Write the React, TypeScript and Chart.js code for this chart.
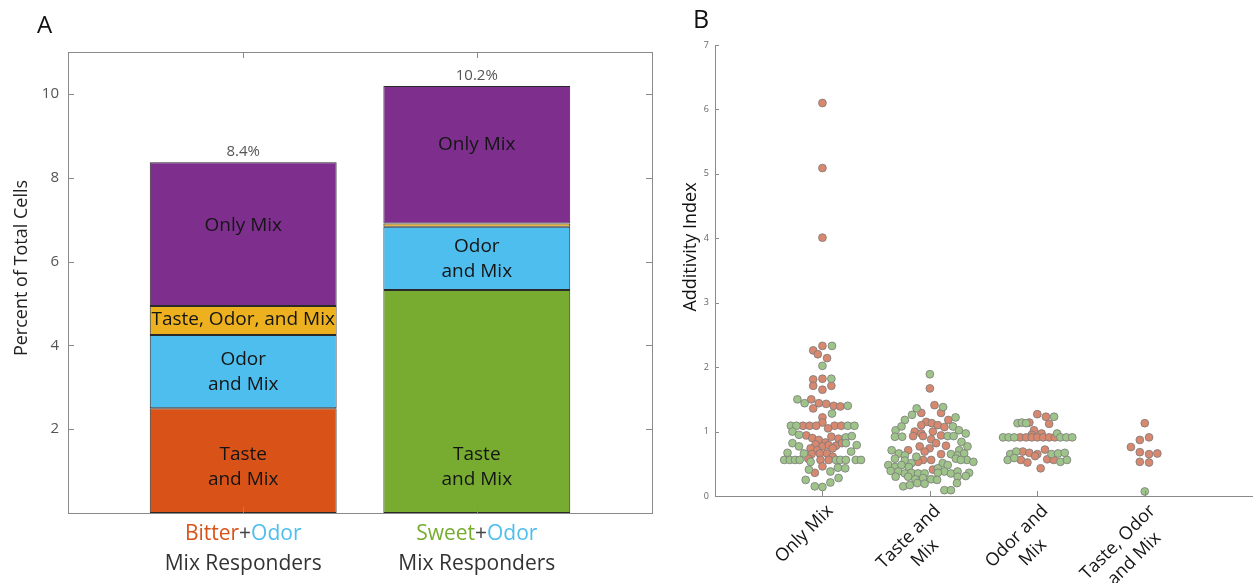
import React, { useEffect, useRef } from 'react';
import { Chart, registerables } from 'chart.js';

Chart.register(...registerables);

const FONT = '"Open Sans", "Noto Sans", "DejaVu Sans", sans-serif';

// ---------- Panel A data ----------
const barPositions = [1, 2];
const barTotalLabels = ['8.4%', '10.2%'];
const tasteNames = ['Bitter', 'Sweet'];
const odorName = 'Odor';
const responderLine = 'Mix Responders';
const tasteAndMix = [2.5, 5.32];
const odorAndMix = [1.75, 1.51];
const tasteOdorAndMix = [0.69, 0.08];
const onlyMix = [3.43, 3.28];
const segmentNames = [['Taste', 'and Mix'], ['Odor', 'and Mix'], ['Taste, Odor, and Mix'], ['Only Mix']];
const tasteLabelY = [1.1, 1.1];
const odorLabelY = [3.36, 6.07];
const tasteOdorLabelY = [4.62, null];
const onlyMixLabelY = [6.85, 8.8];
const yTicksA = [2, 4, 6, 8, 10];

// ---------- Panel B data ----------
const categoriesB = [['Only Mix'], ['Taste and', 'Mix'], ['Odor and', 'Mix'], ['Taste, Odor', 'and Mix']];
const yTicksB = [0, 1, 2, 3, 4, 5, 6, 7];

// [horizontal swarm offset, additivity index]
const onlyMixBitter = [
  [0, 6.1], [0, 5.09], [0, 4.01],
  [-0.086, 2.26], [0, 2.33], [-0.043, 2.2], [0.043, 2.14],
  [-0.086, 1.81], [0, 1.82], [-0.086, 1.71], [0, 1.65], [0.083, 1.71],
  [-0.104, 1.5], [-0.034, 1.44], [0.034, 1.43], [0.104, 1.4], [0.166, 1.39], [-0.086, 1.36],
  [0, 1.22], [0, 1.14],
  [-0.181, 1.09], [-0.12, 1.09], [-0.058, 1.09], [0.113, 1.09], [0.175, 1.09],
  [0.052, 1.05],
  [-0.15, 0.94], [-0.095, 0.9], [-0.034, 0.87], [0.028, 0.83], [0.083, 0.92], [0.15, 0.89],
  [-0.064, 0.8], [0, 0.77], [0.058, 0.79], [0.126, 0.78], [0.181, 0.82],
  [-0.11, 0.74], [-0.049, 0.71], [0.095, 0.74],
  [-0.101, 0.65], [-0.025, 0.66], [0.043, 0.66], [0.095, 0.61],
  [-0.132, 0.58], [-0.018, 0.56], [0.058, 0.56],
  [0, 0.46], [-0.071, 0.36],
];
const onlyMixSweet = [
  [0.089, 2.33], [0, 2.02], [0.083, 1.82],
  [-0.233, 1.5], [-0.166, 1.44], [0.236, 1.4], [0.089, 1.28],
  [-0.294, 1.09], [-0.242, 1.09], [0.236, 1.09], [0.298, 1.09],
  [-0.279, 1.0], [-0.218, 0.95], [0.218, 0.91], [0.273, 0.93],
  [-0.279, 0.82], [0.218, 0.82], [-0.218, 0.77], [0.319, 0.79],
  [-0.325, 0.67], [-0.172, 0.66], [0.267, 0.69],
  [-0.356, 0.56], [-0.304, 0.56], [-0.255, 0.56], [-0.212, 0.56],
  [0.126, 0.56], [0.166, 0.56], [0.218, 0.56], [0.31, 0.56], [0.359, 0.56],
  [-0.11, 0.53], [-0.126, 0.41], [0.074, 0.38], [0.144, 0.44], [0.212, 0.43],
  [-0.156, 0.25], [0.15, 0.28], [-0.071, 0.15], [0, 0.14], [0.074, 0.21],
];
const tasteMixBitter = [
  [0, 1.67], [0.043, 1.41], [-0.08, 1.29], [0.104, 1.29],
  [-0.034, 1.15], [0.018, 1.13], [0.172, 1.18], [-0.08, 1.1], [0.074, 1.1], [0.135, 1.07],
  [-0.141, 1.0], [-0.08, 0.97], [0.028, 1.0], [-0.156, 0.93], [-0.064, 0.93], [0.104, 0.94],
  [0.012, 0.88], [0.058, 0.82], [-0.095, 0.77], [-0.003, 0.74], [0.15, 0.78],
  [-0.202, 0.71], [-0.049, 0.69], [0.104, 0.65],
  [-0.064, 0.56], [0.012, 0.56], [-0.11, 0.53], [0.028, 0.41],
];
const tasteMixSweet = [
  [0, 1.89], [0.123, 1.38], [-0.123, 1.36], [-0.166, 1.26], [0.239, 1.22], [-0.233, 1.18],
  [0.215, 1.08], [-0.319, 1.02], [-0.264, 1.08], [0.27, 1.02], [0.334, 0.97],
  [-0.325, 0.92], [-0.258, 0.92], [0.166, 0.93], [0.221, 0.93], [0.294, 0.84],
  [-0.356, 0.71], [-0.288, 0.66], [-0.233, 0.63], [0.273, 0.71], [0.35, 0.77],
  [0.196, 0.65], [0.258, 0.63], [0.319, 0.66], [0.242, 0.58], [0.344, 0.56], [0.405, 0.53],
  [-0.126, 0.61], [-0.325, 0.58], [-0.233, 0.55], [-0.172, 0.51], [0.12, 0.51], [0.166, 0.48], [0.288, 0.56],
  [-0.387, 0.48], [-0.325, 0.45], [-0.264, 0.48], [-0.196, 0.45], [0.074, 0.43],
  [0.135, 0.38], [0.196, 0.35], [0.258, 0.38], [0.365, 0.36],
  [-0.365, 0.39], [-0.294, 0.38], [-0.233, 0.35], [-0.172, 0.36], [-0.11, 0.35], [-0.049, 0.35], [0.074, 0.36],
  [-0.319, 0.3], [-0.202, 0.3], [-0.135, 0.26], [-0.064, 0.28], [0.012, 0.26], [0.258, 0.3], [0.334, 0.31],
  [-0.248, 0.15], [-0.187, 0.17], [-0.117, 0.2], [-0.049, 0.19], [0.067, 0.25], [0.252, 0.2],
  [0.135, 0.09], [0.196, 0.09],
];
const odorMixBitter = [
  [0, 1.27], [0.08, 1.23], [-0.074, 1.14], [0.11, 1.12], [-0.031, 1.02], [0.04, 0.97], [-0.052, 0.95],
  [-0.16, 0.91], [-0.104, 0.91], [-0.052, 0.91], [0, 0.91], [0.055, 0.91], [0.11, 0.91], [0.163, 0.91],
  [0.071, 0.72], [-0.135, 0.69], [-0.074, 0.67], [0, 0.65], [-0.021, 0.62],
  [-0.153, 0.56], [-0.092, 0.52], [0.092, 0.57], [0.153, 0.56], [0.031, 0.43],
];
const odorMixSweet = [
  [0.156, 1.23], [-0.184, 1.13], [-0.144, 1.14], [-0.104, 1.13], [0.184, 0.97],
  [-0.319, 0.91], [-0.267, 0.91], [-0.215, 0.91], [0.215, 0.91], [0.27, 0.91], [0.325, 0.91],
  [-0.252, 0.65], [-0.196, 0.69], [0.132, 0.65], [0.193, 0.66], [0.255, 0.67],
  [-0.276, 0.56], [-0.215, 0.59], [0.215, 0.53], [0.276, 0.56],
];
const allThreeBitter = [
  [0, 1.13], [-0.046, 0.87], [0.04, 0.91], [-0.129, 0.76], [-0.046, 0.68], [0.04, 0.65], [0.117, 0.66],
  [-0.046, 0.53], [0.04, 0.52],
];
const allThreeSweet = [[0, 0.07]];

const bitterGroups = [onlyMixBitter, tasteMixBitter, odorMixBitter, allThreeBitter];
const sweetGroups = [onlyMixSweet, tasteMixSweet, odorMixSweet, allThreeSweet];

// ---------- styles ----------
const ORANGE = '#D95319';
const GREEN = '#77AC30';
const BLUE = '#4DBEEE';
const YELLOW = '#EDB120';
const PURPLE = '#7E2F8E';
const AXIS = '#8a8a8a';

const toXY = (groups: number[][][]) =>
  groups.flatMap((g, gi) => g.map(([dx, y]) => ({ x: gi + 1 + dx, y })));

const panelAPlugin = {
  id: 'panelA',
  afterDraw(chart: any) {
    const { ctx, chartArea: ca, scales } = chart;
    const xs = scales.x;
    const ys = scales.y;
    ctx.save();
    // box
    ctx.strokeStyle = AXIS;
    ctx.lineWidth = 1;
    ctx.strokeRect(Math.round(ca.left) + 0.5, Math.round(ca.top) + 0.5, Math.round(ca.right - ca.left), Math.round(ca.bottom - ca.top));
    // inward ticks
    ctx.beginPath();
    yTicksA.forEach((v) => {
      const y = Math.round(ys.getPixelForValue(v)) + 0.5;
      ctx.moveTo(ca.left, y); ctx.lineTo(ca.left + 6, y);
      ctx.moveTo(ca.right, y); ctx.lineTo(ca.right - 6, y);
    });
    barPositions.forEach((p) => {
      const x = Math.round(xs.getPixelForValue(p)) + 0.5;
      ctx.moveTo(x, ca.top); ctx.lineTo(x, ca.top + 6);
      ctx.moveTo(x, ca.bottom); ctx.lineTo(x, ca.bottom - 6);
    });
    ctx.stroke();

    // segment labels
    const labelYs = [tasteLabelY, odorLabelY, tasteOdorLabelY, onlyMixLabelY];
    ctx.fillStyle = '#151515';
    ctx.font = `19px ${FONT}`;
    ctx.textAlign = 'center';
    ctx.textBaseline = 'middle';
    labelYs.forEach((arr, di) => {
      const meta = chart.getDatasetMeta(di);
      arr.forEach((v, bi) => {
        if (v === null) return;
        const x = meta.data[bi].x;
        const yc = ys.getPixelForValue(v);
        const lines = segmentNames[di];
        const lh = 25;
        lines.forEach((t, li) => {
          ctx.fillText(t, x, yc + (li - (lines.length - 1) / 2) * lh);
        });
      });
    });

    // totals
    ctx.fillStyle = '#555';
    ctx.font = `15px ${FONT}`;
    barPositions.forEach((p, i) => {
      const total = tasteAndMix[i] + odorAndMix[i] + tasteOdorAndMix[i] + onlyMix[i];
      ctx.fillText(barTotalLabels[i], xs.getPixelForValue(p), ys.getPixelForValue(total) - 10);
    });

    // x category labels
    barPositions.forEach((p, i) => {
      const xc = xs.getPixelForValue(p);
      ctx.font = `21px ${FONT}`;
      const parts: [string, string][] = [[tasteNames[i], i === 0 ? ORANGE : GREEN], ['+', '#444'], [odorName, BLUE]];
      const widths = parts.map(([t]) => ctx.measureText(t).width);
      const total = widths.reduce((a, b) => a + b, 0);
      let x = xc - total / 2;
      ctx.textAlign = 'left';
      parts.forEach(([t, c], k) => {
        ctx.fillStyle = c;
        ctx.fillText(t, x, ca.bottom + 21);
        x += widths[k];
      });
      ctx.textAlign = 'center';
      ctx.fillStyle = '#333';
      ctx.fillText(responderLine, xc, ca.bottom + 51);
    });

    // y title
    ctx.save();
    ctx.translate(22, 268);
    ctx.rotate(-Math.PI / 2);
    ctx.fillStyle = '#222';
    ctx.font = `18px ${FONT}`;
    ctx.textAlign = 'center';
    ctx.textBaseline = 'middle';
    ctx.fillText('Percent of Total Cells', 0, 0);
    ctx.restore();

    // panel letter
    ctx.fillStyle = '#111';
    ctx.font = `24px ${FONT}`;
    ctx.textAlign = 'left';
    ctx.textBaseline = 'alphabetic';
    ctx.fillText('A', 37, 33);
    ctx.restore();
  },
};

const panelBPlugin = {
  id: 'panelB',
  afterDraw(chart: any) {
    const { ctx, chartArea: ca, scales } = chart;
    const xs = scales.x;
    const ys = scales.y;
    ctx.save();
    ctx.strokeStyle = AXIS;
    ctx.lineWidth = 1;
    ctx.beginPath();
    yTicksB.forEach((v) => {
      const y = Math.round(ys.getPixelForValue(v)) + 0.5;
      ctx.moveTo(ca.left, y); ctx.lineTo(ca.left + 4, y);
    });
    categoriesB.forEach((_, i) => {
      const x = Math.round(xs.getPixelForValue(i + 1)) + 0.5;
      ctx.moveTo(x, ca.bottom); ctx.lineTo(x, ca.bottom - 5);
    });
    ctx.stroke();

    // rotated category labels
    ctx.fillStyle = '#151515';
    ctx.font = `18px ${FONT}`;
    ctx.textAlign = 'center';
    ctx.textBaseline = 'middle';
    categoriesB.forEach((lines, i) => {
      const x = xs.getPixelForValue(i + 1);
      const w = Math.max(...lines.map((l) => ctx.measureText(l).width));
      ctx.save();
      ctx.translate(x, ca.bottom);
      ctx.rotate(-Math.PI / 4);
      lines.forEach((l, j) => ctx.fillText(l, -3 - w / 2, 14 + j * 23));
      ctx.restore();
    });

    // y title
    ctx.save();
    ctx.translate(31, 247);
    ctx.rotate(-Math.PI / 2);
    ctx.fillStyle = '#111';
    ctx.font = `18px ${FONT}`;
    ctx.fillText('Additivity Index', 0, 0);
    ctx.restore();

    ctx.fillStyle = '#111';
    ctx.font = `25px ${FONT}`;
    ctx.textAlign = 'left';
    ctx.textBaseline = 'alphabetic';
    ctx.fillText('B', 33, 28);
    ctx.restore();
  },
};

export default function App() {
  const refA = useRef<HTMLCanvasElement>(null);
  const refB = useRef<HTMLCanvasElement>(null);

  useEffect(() => {
    const barCommon = {
      borderColor: '#2a2a2a',
      borderWidth: 1,
      borderSkipped: false,
      categoryPercentage: 1,
      barPercentage: 0.8,
    };
    const mk = (vals: number[]) => barPositions.map((x, i) => ({ x, y: vals[i] }));
    const chartA = new Chart(refA.current as HTMLCanvasElement, {
      type: 'bar',
      data: {
        datasets: [
          { label: 'Taste and Mix', data: mk(tasteAndMix), backgroundColor: [ORANGE, GREEN], ...barCommon },
          { label: 'Odor and Mix', data: mk(odorAndMix), backgroundColor: BLUE, ...barCommon },
          { label: 'Taste, Odor, and Mix', data: mk(tasteOdorAndMix), backgroundColor: YELLOW, ...barCommon },
          { label: 'Only Mix', data: mk(onlyMix), backgroundColor: PURPLE, ...barCommon },
        ] as any,
      },
      options: {
        responsive: false,
        animation: false,
        layout: { padding: { left: 0, right: 8, top: 52, bottom: 0 } },
        plugins: { legend: { display: false }, tooltip: { enabled: false } },
        scales: {
          x: {
            type: 'linear',
            min: 0.25,
            max: 2.75,
            offset: false,
            stacked: true,
            grid: { display: false, drawTicks: false },
            border: { display: false },
            afterBuildTicks: (s: any) => { s.ticks = barPositions.map((v) => ({ value: v })); },
            ticks: { display: false },
            afterFit: (s: any) => { s.height = 70; },
          },
          y: {
            type: 'linear',
            min: 0,
            max: 11,
            stacked: true,
            grid: { display: false, drawTicks: false },
            border: { display: false },
            afterBuildTicks: (s: any) => { s.ticks = yTicksA.map((v) => ({ value: v })); },
            ticks: { padding: 9, color: '#555', font: { family: FONT, size: 15 } },
            afterFit: (s: any) => { s.width = 68; },
          },
        } as any,
      },
      plugins: [panelAPlugin],
    });

    const pointCommon = {
      borderColor: '#7a7a7a',
      borderWidth: 0.8,
      pointRadius: 3.9,
      clip: false,
    };
    const chartB = new Chart(refB.current as HTMLCanvasElement, {
      type: 'scatter',
      data: {
        datasets: [
          { label: 'Sweet', data: toXY(sweetGroups), backgroundColor: '#9FC48A', ...pointCommon },
          { label: 'Bitter', data: toXY(bitterGroups), backgroundColor: '#D8886F', ...pointCommon },
        ] as any,
      },
      options: {
        responsive: false,
        animation: false,
        layout: { padding: { left: 0, right: 0, top: 45, bottom: 0 } },
        plugins: { legend: { display: false }, tooltip: { enabled: false } },
        scales: {
          x: {
            type: 'linear',
            min: 0,
            max: 5,
            grid: { display: false, drawTicks: false },
            border: { display: true, color: AXIS, width: 1 },
            ticks: { display: false },
            afterFit: (s: any) => { s.height = 87; },
          },
          y: {
            type: 'linear',
            min: 0,
            max: 7,
            grid: { display: false, drawTicks: false },
            border: { display: true, color: AXIS, width: 1 },
            afterBuildTicks: (s: any) => { s.ticks = yTicksB.map((v) => ({ value: v })); },
            ticks: { padding: 6, color: '#666', font: { family: FONT, size: 9 } },
            afterFit: (s: any) => { s.width = 55; },
          },
        } as any,
      },
      plugins: [panelBPlugin],
    });

    return () => {
      chartA.destroy();
      chartB.destroy();
    };
  }, []);

  return (
    <div style={{ position: 'fixed', left: 0, top: 0, width: 1257, height: 583, background: '#fff' }}>
      <canvas ref={refA} width={660} height={583} style={{ position: 'absolute', left: 0, top: 0, width: 660, height: 583 }} />
      <canvas ref={refB} width={597} height={583} style={{ position: 'absolute', left: 660, top: 0, width: 597, height: 583 }} />
    </div>
  );
}
